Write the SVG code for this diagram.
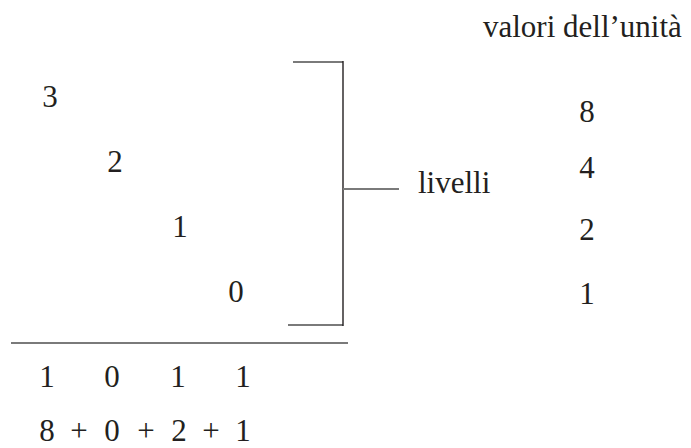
<svg xmlns="http://www.w3.org/2000/svg" width="691" height="448" viewBox="0 0 691 448" font-family="Liberation Serif, DejaVu Serif, serif">
<style>
text{font-family:"Liberation Serif","DejaVu Serif",serif;font-size:31px;fill:#231f20;text-anchor:middle}
.l{text-anchor:start}
.h{stroke:#7a7a7a;stroke-width:2;fill:none}
.v{stroke:#231f20;stroke-width:1.4;fill:none}
</style>
<rect width="691" height="448" fill="#fff"/>
<g id="connectors">
<line class="h" x1="293" y1="62" x2="343" y2="62"/>
<line class="h" x1="288" y1="325" x2="343" y2="325"/>
<line class="v" x1="343" y1="61" x2="343" y2="326"/>
<line class="h" x1="343" y1="189" x2="399" y2="189"/>
<line class="h" x1="11" y1="343" x2="348" y2="343"/>
</g>
<g id="title"><text class="l" x="483" y="37">valori dell’unità</text></g>
<g id="livelli"><text class="l" x="418" y="193">livelli</text></g>
<g id="levels">
<text x="50" y="107">3</text>
<text x="115" y="172">2</text>
<text x="180" y="237">1</text>
<text x="236" y="302">0</text>
</g>
<g id="values">
<text x="587" y="122">8</text>
<text x="587" y="178">4</text>
<text x="587" y="240">2</text>
<text x="587" y="304">1</text>
</g>
<g id="binary">
<text x="47" y="387">1</text>
<text x="112" y="387">0</text>
<text x="178" y="387">1</text>
<text x="243" y="387">1</text>
</g>
<g id="sum">
<text x="47" y="441">8</text>
<text x="79" y="441">+</text>
<text x="112" y="441">0</text>
<text x="146" y="441">+</text>
<text x="179" y="441">2</text>
<text x="211" y="441">+</text>
<text x="243" y="441">1</text>
</g>
</svg>
